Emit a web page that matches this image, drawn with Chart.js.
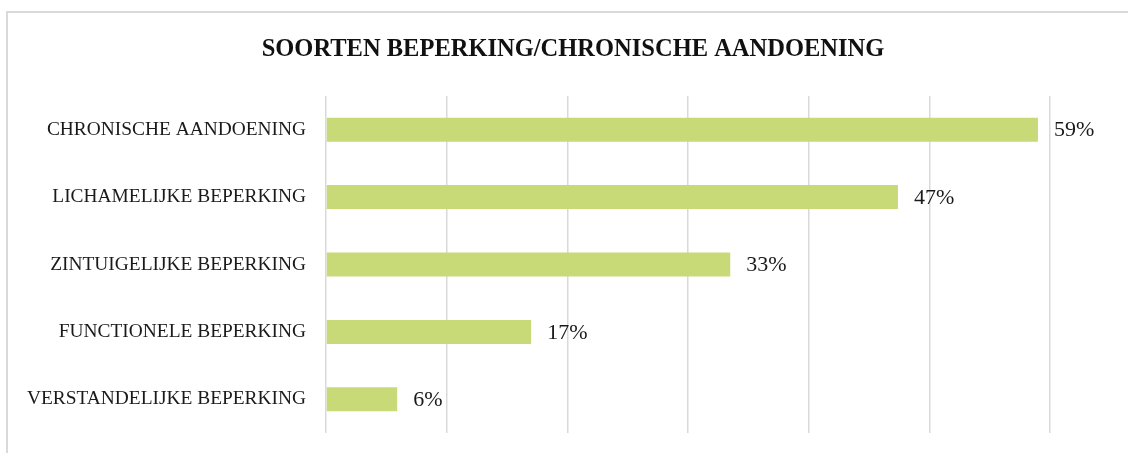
<!DOCTYPE html>
<html>
<head>
<meta charset="utf-8">
<script src="https://cdn.jsdelivr.net/npm/chart.js@4/dist/chart.umd.min.js"></script>
<style>
  html, body { margin: 0; padding: 0; background: #ffffff; overflow: hidden; }
  #frame { position: absolute; left: 6px; top: 11px; width: 1200px; height: 600px;
           border-left: 2px solid #dadada; border-top: 2px solid #dadada; }
  #wrap { position: absolute; left: 0; top: 0; width: 1128px; height: 453px; }
</style>
</head>
<body>
<div id="frame"></div>
<div id="wrap"><canvas id="c" width="1128" height="453"></canvas></div>
<script>
const chartTitle = "SOORTEN BEPERKING/CHRONISCHE AANDOENING";
const categories = [
  "CHRONISCHE AANDOENING",
  "LICHAMELIJKE BEPERKING",
  "ZINTUIGELIJKE BEPERKING",
  "FUNCTIONELE BEPERKING",
  "VERSTANDELIJKE BEPERKING"
];
const values = [59, 47.4, 33.5, 17, 5.9];
const valueLabels = ["59%", "47%", "33%", "17%", "6%"];
const xTicks = [0, 10, 20, 30, 40, 50, 60];

const SERIF = '"Liberation Serif", "Times New Roman", serif';

const titlePlugin = {
  id: 'ownTitle',
  afterDraw(chart) {
    const ctx = chart.ctx;
    ctx.save();
    ctx.font = 'bold 24.5px ' + SERIF;
    ctx.fillStyle = '#111111';
    ctx.textAlign = 'center';
    ctx.textBaseline = 'alphabetic';
    ctx.fillText(chartTitle, 573, 56);
    ctx.restore();
  }
};

const dataLabelPlugin = {
  id: 'dataLabels',
  afterDatasetsDraw(chart) {
    const ctx = chart.ctx;
    const meta = chart.getDatasetMeta(0);
    ctx.save();
    ctx.font = '22px ' + SERIF;
    ctx.fillStyle = '#1a1a1a';
    ctx.textAlign = 'left';
    ctx.textBaseline = 'middle';
    meta.data.forEach((bar, i) => {
      ctx.fillText(valueLabels[i], bar.x + 16, bar.y + 1);
    });
    ctx.restore();
  }
};

new Chart(document.getElementById('c'), {
  type: 'bar',
  data: {
    labels: categories,
    datasets: [{
      data: values,
      backgroundColor: '#c8d977',
      borderWidth: 0,
      categoryPercentage: 1,
      barPercentage: 0.356
    }]
  },
  options: {
    indexAxis: 'y',
    responsive: false,
    animation: false,
    layout: { padding: { left: 0, right: 78, top: 96, bottom: 20 } },
    plugins: {
      legend: { display: false },
      tooltip: { enabled: false },
      title: { display: false }
    },
    scales: {
      x: {
        min: xTicks[0],
        max: xTicks[xTicks.length - 1],
        afterBuildTicks(scale) { scale.ticks = xTicks.map(v => ({ value: v })); },
        afterFit(scale) { scale.height = 0; scale.paddingLeft = 0; scale.paddingRight = 0; },
        ticks: { display: false },
        grid: { color: '#d9d9d9', lineWidth: 1.5, drawTicks: false },
        border: { display: false }
      },
      y: {
        afterFit(scale) { scale.width = 326; scale.paddingTop = 0; scale.paddingBottom = 0; },
        ticks: {
          color: '#1a1a1a',
          padding: 20,
          font: { family: SERIF, size: 19.4 }
        },
        grid: { display: false, drawTicks: false },
        border: { display: false }
      }
    }
  },
  plugins: [dataLabelPlugin, titlePlugin]
});
</script>
</body>
</html>
